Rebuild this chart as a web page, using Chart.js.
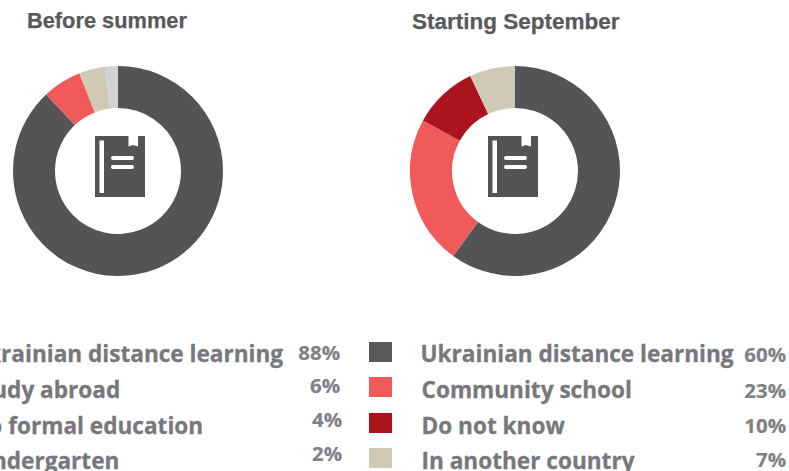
<!DOCTYPE html>
<html>
<head>
<meta charset="utf-8">
<style>
html,body{margin:0;padding:0;background:#fff;width:789px;height:471px;overflow:hidden}
#stage{position:relative;width:789px;height:471px;overflow:hidden}
canvas{position:absolute}
.t{position:absolute;white-space:nowrap;line-height:1;font-weight:700}
.title{font-family:"Liberation Sans",Arial,sans-serif;color:#58595b;font-size:21.8px;-webkit-text-stroke:.25px #58595b}
.title2{font-family:"Liberation Sans",Arial,sans-serif;color:#58595b;font-size:22.5px;-webkit-text-stroke:.25px #58595b}
.leg{font-family:"Open Sans",sans-serif;color:#77787b;font-size:22.6px;-webkit-text-stroke:.3px #77787b}
.pct{font-family:"Open Sans",sans-serif;color:#808184;font-size:20.4px;-webkit-text-stroke:.2px #808184}
.sw{position:absolute;width:23px;height:20px}
svg{position:absolute}
</style>
<script src="https://cdn.jsdelivr.net/npm/chart.js@4/dist/chart.umd.min.js"></script>
</head>
<body>
<div id="stage"></div>
<script>
const beforeTitle = "Before summer";
const afterTitle = "Starting September";
const beforeLabels = ["Ukrainian distance learning","Study abroad","No formal education","Kindergarten"];
const beforeValues = [88,6,4,2];
const afterLabels = ["Ukrainian distance learning","Community school","Do not know","In another country"];
const afterValues = [60,23,10,7];
const beforeColors = ["#545355","#f05a5b","#d1c9b6","#d1d3d4"];
const afterColors = ["#545355","#f05a5b","#ab141c","#d1c9b6"];
const swatchColors = ["#59595b","#f05a5b","#ab141c","#d1c9b6"];

const stage = document.getElementById("stage");
function text(cls, str, x, baseline, size, right){
  const el = document.createElement("div");
  el.className = "t " + cls;
  el.textContent = str;
  stage.appendChild(el);
  const ctx = document.createElement("canvas").getContext("2d");
  const cs = getComputedStyle(el);
  const fs = parseFloat(cs.fontSize);
  ctx.font = cs.fontWeight+" "+fs+"px "+cs.fontFamily;
  const m = ctx.measureText("H");
  const asc = m.fontBoundingBoxAscent, desc = m.fontBoundingBoxDescent;
  const top = baseline - (fs - (asc+desc))/2 - asc;
  el.style.top = top + "px";
  if(right){ el.style.right = (789 - x) + "px"; } else { el.style.left = x + "px"; }
}
function donut(left, labels, values, colors){
  const c = document.createElement("canvas");
  c.style.left = left + "px"; c.style.top = "66px";
  c.width = 210; c.height = 210;
  stage.appendChild(c);
  new Chart(c, {
    type: "doughnut",
    data: { labels, datasets: [{ data: values, backgroundColor: colors, borderWidth: 0 }] },
    options: {
      responsive: false, animation: false, cutout: "60%",
      layout: { padding: 0 },
      plugins: { legend: { display: false }, tooltip: { enabled: false } }
    }
  });
}
function book(x){
  const s = document.createElementNS("http://www.w3.org/2000/svg","svg");
  s.setAttribute("width","50"); s.setAttribute("height","62");
  s.setAttribute("viewBox","0 0 50 62");
  s.style.left = x + "px"; s.style.top = "136px";
  s.innerHTML = '<path fill="#545355" d="M0 0H33.5V10.5L38 9L43 10.5V0H50V61H0Z"/>'+
    '<rect x="4.5" y="4.5" width="4.5" height="52.5" fill="#fff"/>'+
    '<rect x="16" y="20" width="23" height="4" rx="2" fill="#fff"/>'+
    '<rect x="16" y="29" width="23" height="4" rx="2" fill="#fff"/>';
  stage.appendChild(s);
}
donut(13, beforeLabels, beforeValues, beforeColors);
donut(410, afterLabels, afterValues, afterColors);
book(95); book(488);
text("title", beforeTitle, 27, 28);
text("title2", afterTitle, 412, 30);

const swatchY = [342,377,413,448];
swatchColors.forEach((col,i)=>{
  const d = document.createElement("div");
  d.className = "sw"; d.style.left = "369px"; d.style.top = swatchY[i]+"px"; d.style.background = col;
  stage.appendChild(d);
});
const leftX = [-30,-30,-30,-30];
const leftBase = [362.5,398.5,434.5,469.5];
const rightX = [420.5,421.5,421.5,421.5];
const rightBase = [362.5,398.5,434.5,469.5];
const pctLeftEnd = [340,340,342,342];
const pctLeftBase = [360,393,427,461];
const pctRightEnd = [786,786,786,786];
const pctRightBase = [362,398,433,467];
beforeLabels.forEach((l,i)=>text("leg", l, leftX[i], leftBase[i]));
afterLabels.forEach((l,i)=>text("leg", l, rightX[i], rightBase[i]));
beforeValues.forEach((v,i)=>text("pct", v+"%", pctLeftEnd[i], pctLeftBase[i], 0, true));
afterValues.forEach((v,i)=>text("pct", v+"%", pctRightEnd[i], pctRightBase[i], 0, true));
</script>
</body>
</html>
